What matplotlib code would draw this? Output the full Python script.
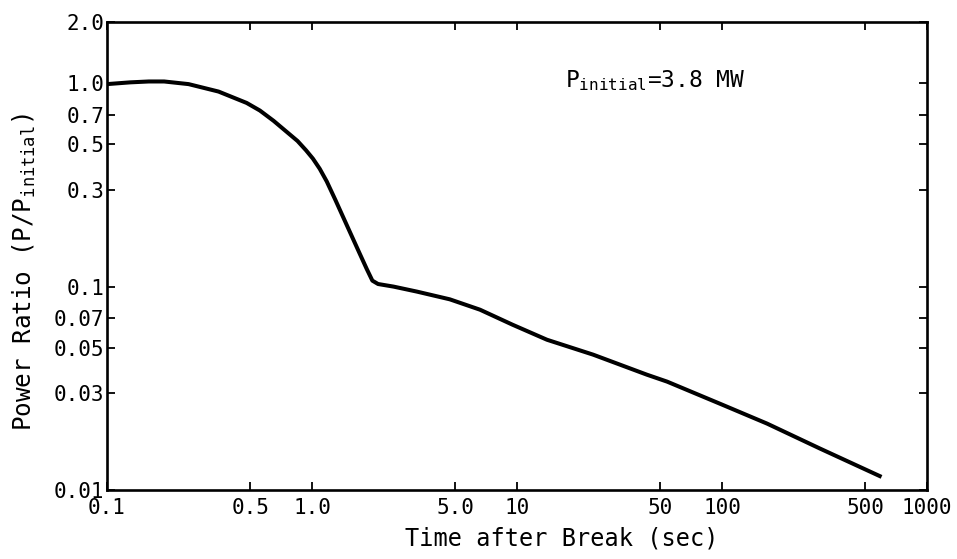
import matplotlib
matplotlib.use("Agg")
import matplotlib.pyplot as plt

# Data (time in s, power ratio P/P_initial)
time_s = [0.1, 0.13, 0.16, 0.19, 0.25, 0.35, 0.48, 0.557, 0.65, 0.85, 0.935, 1.01, 1.09,
          1.18, 1.3, 1.48, 1.7, 1.85, 1.97, 2.1, 2.5, 3.25, 4.7, 6.6, 9.5, 14.0,
          23.5, 43.0, 54.0, 100.0, 166.0, 300.0, 600.0]
power_ratio = [0.99, 1.01, 1.02, 1.02, 0.99, 0.91, 0.80, 0.734, 0.653, 0.52, 0.468, 0.426,
               0.38, 0.329, 0.267, 0.20, 0.147, 0.122, 0.107, 0.103, 0.100, 0.0945,
               0.0866, 0.077, 0.065, 0.0548, 0.0463, 0.0369, 0.0341, 0.0263, 0.0212,
               0.0160, 0.0116]

x_ticks = [0.1, 0.5, 1.0, 5.0, 10, 50, 100, 500, 1000]
x_tick_labels = ["0.1", "0.5", "1.0", "5.0", "10", "50", "100", "500", "1000"]
y_ticks = [0.01, 0.03, 0.05, 0.07, 0.1, 0.3, 0.5, 0.7, 1.0, 2.0]
y_tick_labels = ["0.01", "0.03", "0.05", "0.07", "0.1", "0.3", "0.5", "0.7", "1.0", "2.0"]

FONT = "DejaVu Sans Mono"
plt.rcParams["font.family"] = [FONT]

fig = plt.figure(figsize=(9.57, 5.59), dpi=100)
ax = fig.add_axes([107 / 957, 1 - 490 / 559, 820 / 957, 468 / 559])

ax.plot(time_s, power_ratio, color="black", linewidth=2.9,
        solid_joinstyle="round", solid_capstyle="butt")

ax.set_xscale("log")
ax.set_yscale("log")
ax.set_xlim(0.1, 1000)
ax.set_ylim(0.01, 2.0)

ax.set_xticks(x_ticks)
ax.set_xticklabels(x_tick_labels)
ax.set_yticks(y_ticks)
ax.set_yticklabels(y_tick_labels)
ax.minorticks_off()

ax.tick_params(axis="both", which="major", direction="in", length=6, width=1.3,
               top=True, right=True, labelsize=15, color="black")
ax.tick_params(axis="x", pad=6)
ax.tick_params(axis="y", pad=2)

for sp in ax.spines.values():
    sp.set_linewidth(1.9)
    sp.set_color("black")

ax.set_xlabel("Time after Break (sec)", fontsize=17)
ax.xaxis.set_label_coords(0.554, -0.078)
ax.set_ylabel(r"Power Ratio (P/P$_{\mathregular{initial}}$)", fontsize=17.5)
ax.yaxis.set_label_coords(-0.084, 0.466)

ax.text(0.558, 0.874, r"P$_{\mathregular{initial}}$=3.8 MW", transform=ax.transAxes,
        fontsize=16.5, ha="left", va="center")

fig.savefig("out.png", dpi=100)
